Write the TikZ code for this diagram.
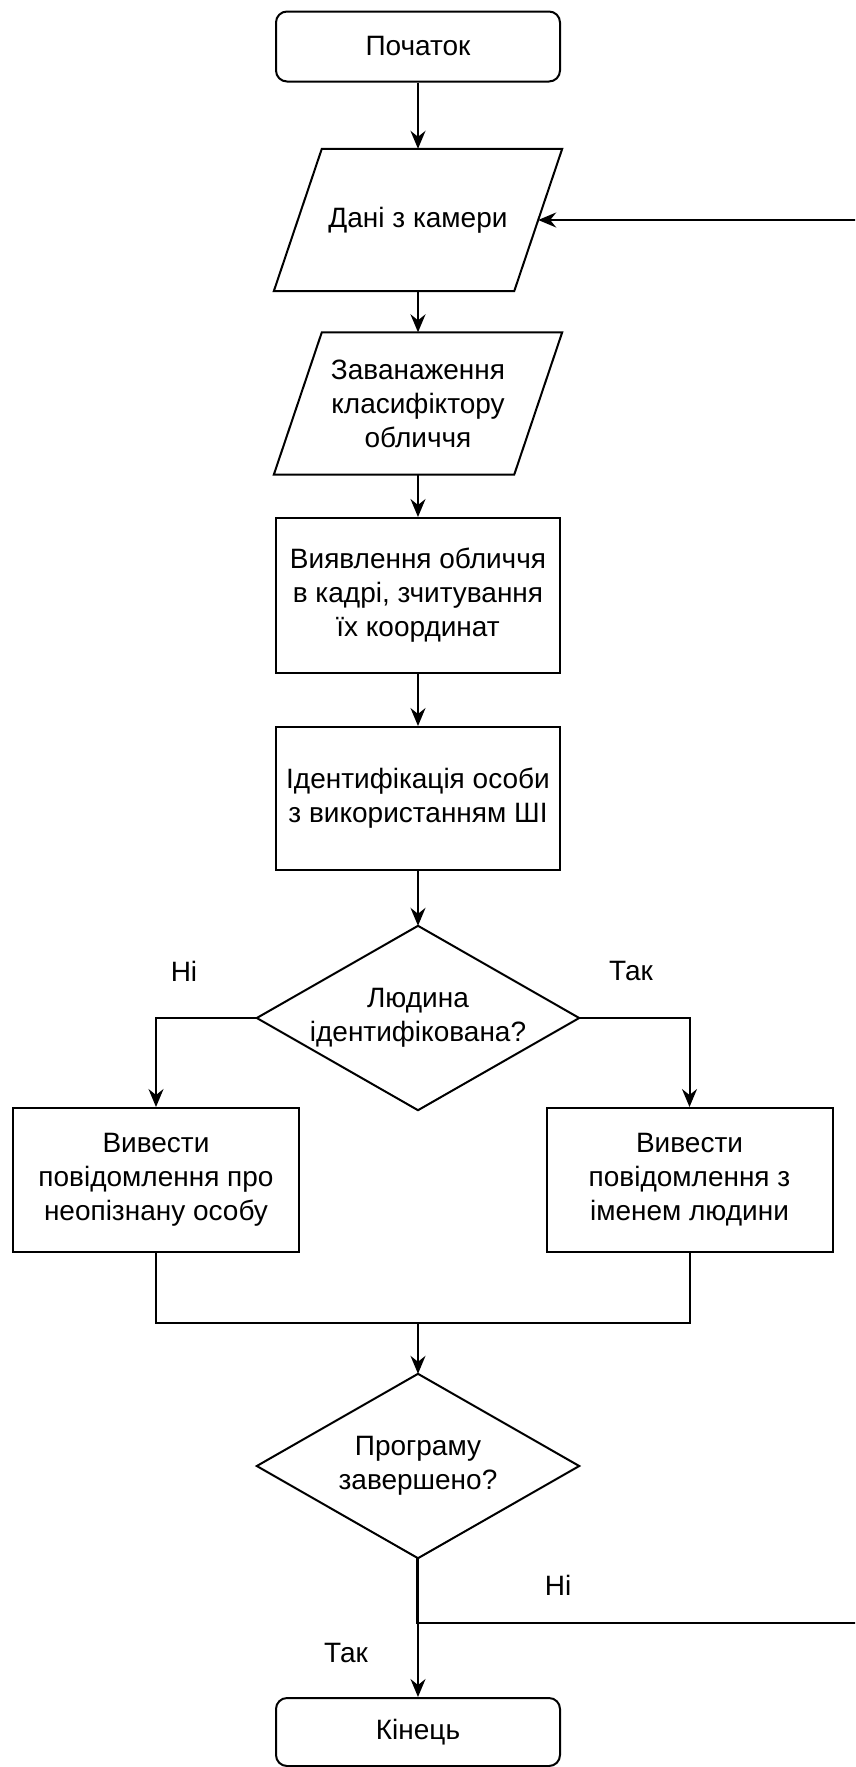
\documentclass[tikz,border=0pt]{standalone}
\usepackage{fontspec}
\setmainfont{Liberation Sans}
\usetikzlibrary{arrows.meta,calc}

\tikzset{
  every node/.style={font=\fontsize{28}{34}\selectfont, align=center, inner sep=0pt},
  line/.style={line width=2pt, draw=black, line join=miter},
  arrow/.style={line, -{Stealth[length=18pt, width=15pt, inset=6pt]}},
  terminal/.style={line, rectangle, rounded corners=11pt, minimum width=284, minimum height=70},
  process/.style={line, rectangle, minimum width=284, minimum height=144},
  iobox/.style={rectangle, minimum width=240, minimum height=142},
  decision/.style={rectangle, minimum width=322, minimum height=184},
  lbl/.style={}
}

\begin{document}
\begin{tikzpicture}[x=1pt, y=-1pt]
  \useasboundingbox (0,0) rectangle (855,1767);
  \clip (0,0) rectangle (855,1767);

  % main column
  \node[terminal] (start) at (418,46.5) {Початок};
  \node[iobox] (cam) at (418,220) {Дані з камери};
  \node[iobox] (load) at (418,403.5) {Заванаження\\класифіктору\\обличчя};
  \node[process, minimum height=155] (detect) at (418,595.5) {Виявлення обличчя\\в кадрі, зчитування\\їх координат};
  \node[process, minimum height=143] (ident) at (418,798.5) {Ідентифікація особи\\з використанням ШІ};
  \node[decision] (known) at (418,1018) {Людина\\ідентифікована?};
  \node[process, minimum width=286] (unk) at (156,1180) {Вивести\\повідомлення про\\неопізнану особу};
  \node[process, minimum width=286] (named) at (689.5,1180) {Вивести\\повідомлення з\\іменем людини};
  \node[decision] (done) at (418,1466) {Програму\\завершено?};
  \node[terminal, minimum height=68] (finish) at (418,1732) {Кінець};

  % input/output parallelograms
  \foreach \n in {cam,load}
    \draw[line] ($(\n.north west)+(24,0)$) -- ($(\n.north east)+(24,0)$)
      -- ($(\n.south east)+(-24,0)$) -- ($(\n.south west)+(-24,0)$) -- cycle;

  % decision diamonds
  \foreach \n in {known,done}
    \draw[line] (\n.north) -- (\n.east) -- (\n.south) -- (\n.west) -- cycle;

  % straight flow
  \draw[arrow] (start) -- (cam);
  \draw[arrow] (cam) -- (load);
  \draw[arrow] (load) -- (detect);
  \draw[arrow] (detect) -- (ident);
  \draw[arrow] (ident) -- (known.north);

  % branches
  \draw[arrow] (known.west) -| (unk.north);
  \draw[arrow] (known.east) -| (named.north);
  \coordinate (merge) at (418,1323);
  \draw[line] (unk.south) |- (merge);
  \draw[line] (named.south) |- (merge);
  \draw[arrow] (merge) -- (done.north);

  % loop back to the camera input
  \coordinate (loopjoin) at (416.5,1623);
  \coordinate (loopbot) at (880,1623);
  \coordinate (looptop) at (880,220);
  \draw[arrow] ($(done.south)+(-1.5,0)$) -- (loopjoin) -- (loopbot) -- (looptop) -- (cam.east);
  \draw[arrow] (done.south) -- (finish.north);

  % branch labels
  \node[lbl] (no1) at (184,971) {Ні};
  \node[lbl] (yes1) at (631,971) {Так};
  \node[lbl] (no2) at (558,1585) {Ні};
  \node[lbl] (yes2) at (346,1653) {Так};
\end{tikzpicture}
\end{document}
